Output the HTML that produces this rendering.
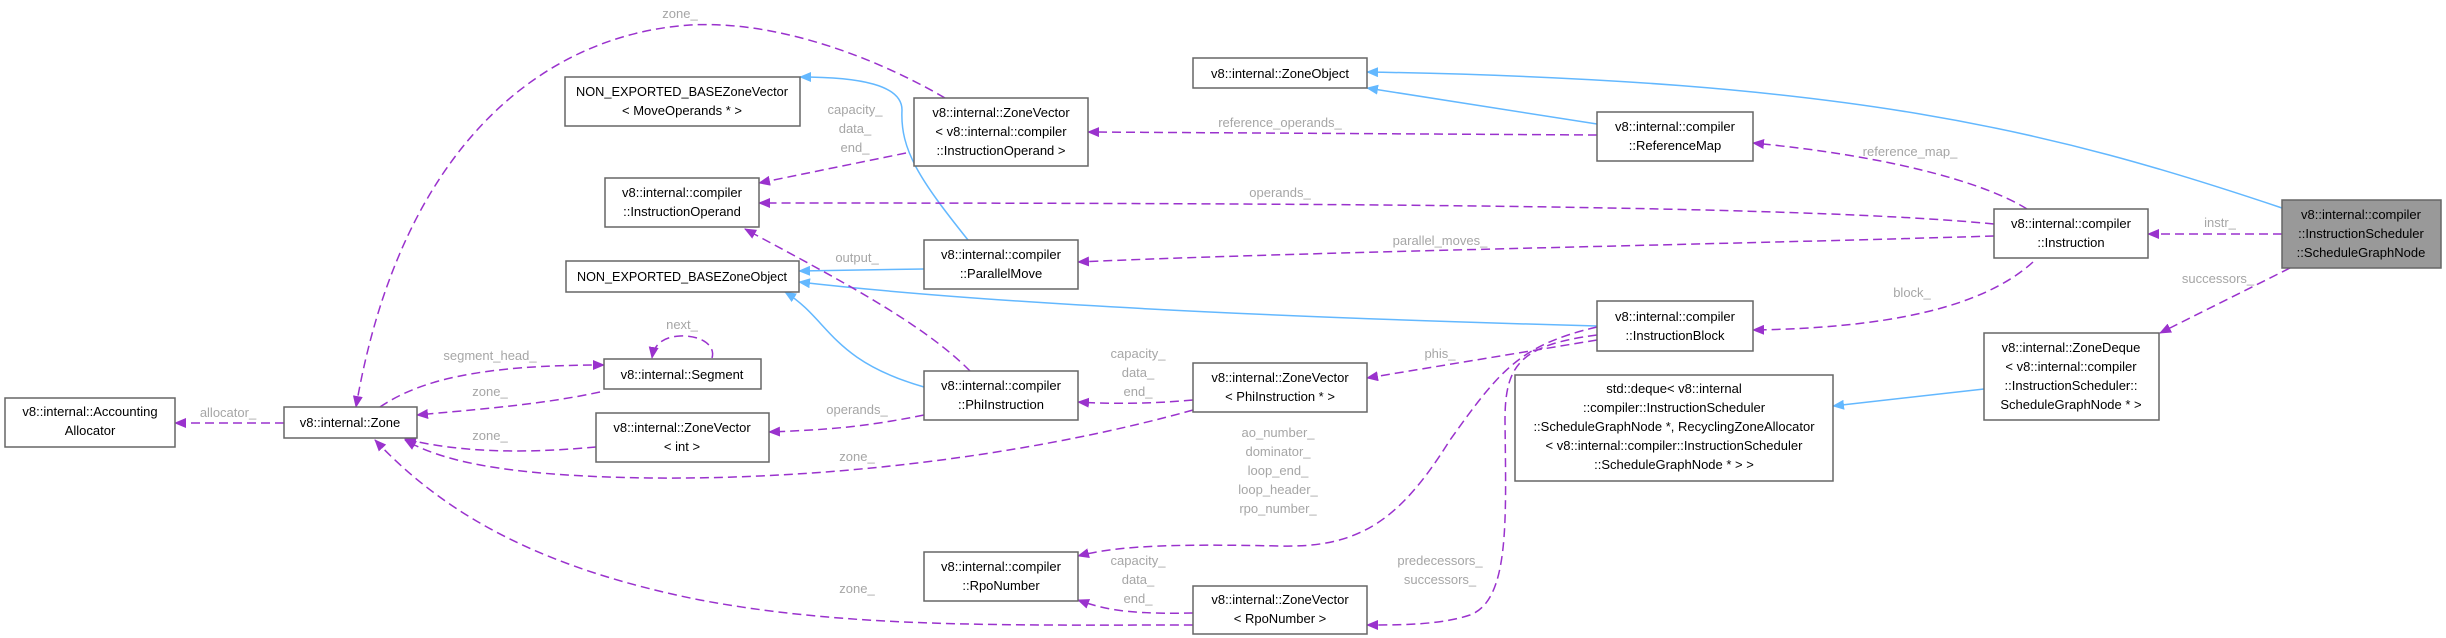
<!DOCTYPE html>
<html><head><meta charset="utf-8"><style>
html,body{margin:0;padding:0;background:#fff;}
svg{display:block;}
text{font-family:"Liberation Sans",sans-serif;}
.n{font-size:13px;fill:#000;text-anchor:middle;}
.l{font-size:13px;fill:#a6a6a6;text-anchor:middle;}
.b{fill:#fff;stroke:#666;stroke-width:1.5;}
.p{fill:none;stroke:#9a32cd;stroke-width:1.5;stroke-dasharray:9,5;}
.i{fill:none;stroke:#63b8ff;stroke-width:1.5;}
</style></head><body>
<svg width="2446" height="638" viewBox="0 0 2446 638" xmlns="http://www.w3.org/2000/svg">
<defs>
<marker id="ap" markerWidth="12" markerHeight="10" refX="11" refY="5" orient="auto" markerUnits="userSpaceOnUse"><path d="M0,0 L12,5 L0,10 z" fill="#9a32cd"/></marker>
<marker id="ab" markerWidth="12" markerHeight="10" refX="11" refY="5" orient="auto" markerUnits="userSpaceOnUse"><path d="M0,0 L12,5 L0,10 z" fill="#63b8ff"/></marker>
</defs>

<path class="i" marker-end="url(#ab)" d="M2282,208 C2050,130 1850,80 1367,72"/>
<path class="i" marker-end="url(#ab)" d="M1597,124 L1367,88"/>
<path class="i" marker-end="url(#ab)" d="M1597,326 C1300,318 1000,305 799,282"/>
<path class="i" marker-end="url(#ab)" d="M924,269 L799,271"/>
<path class="i" marker-end="url(#ab)" d="M924,387 C830,360 830,320 785,292"/>
<path class="i" marker-end="url(#ab)" d="M968,240 C920,180 900,150 902,110 C902,85 860,77 800,77"/>
<path class="i" marker-end="url(#ab)" d="M1984,389 L1833,406"/>

<path class="p" marker-end="url(#ap)" d="M2282,234 L2148,234"/>
<path class="p" marker-end="url(#ap)" d="M2290,268 L2160,333"/>
<path class="p" marker-end="url(#ap)" d="M2027,209 C1980,180 1880,155 1753,143"/>
<path class="p" marker-end="url(#ap)" d="M1597,135 L1088,132"/>
<path class="p" marker-end="url(#ap)" d="M1994,224 C1800,205 1300,203 759,203"/>
<path class="p" marker-end="url(#ap)" d="M1994,236 C1700,245 1300,252 1078,262"/>
<path class="p" marker-end="url(#ap)" d="M2033,262 C1980,310 1880,328 1753,330"/>
<path class="p" marker-end="url(#ap)" d="M945,98 C880,60 780,20 690,25 C540,35 400,150 356,407"/>
<path class="p" marker-end="url(#ap)" d="M906,153 L759,183"/>
<path class="p" marker-end="url(#ap)" d="M970,371 C920,320 820,270 745,229"/>
<path class="p" marker-end="url(#ap)" d="M1597,340 L1367,378"/>
<path class="p" marker-end="url(#ap)" d="M1193,400 C1150,404 1110,404 1078,402"/>
<path class="p" marker-end="url(#ap)" d="M924,415 C860,428 820,430 769,432"/>
<path class="p" marker-end="url(#ap)" d="M1193,410 C1050,450 850,480 650,478 C500,476 440,460 405,440"/>
<path class="p" marker-end="url(#ap)" d="M596,447 C540,452 470,455 405,439"/>
<path class="p" marker-end="url(#ap)" d="M600,392 C540,405 470,410 417,415"/>
<path class="p" marker-end="url(#ap)" d="M380,407 C420,380 480,365 604,365"/>
<path class="p" marker-end="url(#ap)" d="M712,358 C716,345 700,335 680,336 C662,337 654,345 652,358"/>
<path class="p" marker-end="url(#ap)" d="M284,423 L175,423"/>
<path class="p" marker-end="url(#ap)" d="M1193,625 C1000,625 850,628 700,600 C550,570 450,520 375,440"/>
<path class="p" marker-end="url(#ap)" d="M1597,327 C1520,345 1500,370 1450,440 C1400,520 1360,548 1280,546 C1180,544 1120,545 1078,556"/>
<path class="p" marker-end="url(#ap)" d="M1193,613 C1140,614 1110,612 1078,600"/>
<path class="p" marker-end="url(#ap)" d="M1597,335 C1520,345 1505,365 1505,420 C1506,520 1510,600 1470,615 C1440,625 1400,625 1367,625"/>

<text class="l" x="2220" y="227">instr_</text>
<text class="l" x="2218" y="283">successors_</text>
<text class="l" x="1910" y="156">reference_map_</text>
<text class="l" x="1280" y="127">reference_operands_</text>
<text class="l" x="1280" y="197">operands_</text>
<text class="l" x="1440" y="245">parallel_moves_</text>
<text class="l" x="1912" y="297">block_</text>
<text class="l" x="680" y="18">zone_</text>
<text class="l" x="855" y="114">capacity_</text>
<text class="l" x="855" y="133">data_</text>
<text class="l" x="855" y="152">end_</text>
<text class="l" x="857" y="262">output_</text>
<text class="l" x="1440" y="358">phis_</text>
<text class="l" x="1138" y="358">capacity_</text>
<text class="l" x="1138" y="377">data_</text>
<text class="l" x="1138" y="396">end_</text>
<text class="l" x="857" y="414">operands_</text>
<text class="l" x="857" y="461">zone_</text>
<text class="l" x="490" y="440">zone_</text>
<text class="l" x="490" y="396">zone_</text>
<text class="l" x="490" y="360">segment_head_</text>
<text class="l" x="682" y="329">next_</text>
<text class="l" x="228" y="417">allocator_</text>
<text class="l" x="857" y="593">zone_</text>
<text class="l" x="1278" y="437">ao_number_</text>
<text class="l" x="1278" y="456">dominator_</text>
<text class="l" x="1278" y="475">loop_end_</text>
<text class="l" x="1278" y="494">loop_header_</text>
<text class="l" x="1278" y="513">rpo_number_</text>
<text class="l" x="1138" y="565">capacity_</text>
<text class="l" x="1138" y="584">data_</text>
<text class="l" x="1138" y="603">end_</text>
<text class="l" x="1440" y="565">predecessors_</text>
<text class="l" x="1440" y="584">successors_</text>

<rect class="b" x="5" y="398" width="170" height="49"/>
<text class="n" x="90" y="416">v8::internal::Accounting</text>
<text class="n" x="90" y="435">Allocator</text>

<rect class="b" x="284" y="407" width="133" height="31"/>
<text class="n" x="350" y="427">v8::internal::Zone</text>

<rect class="b" x="565" y="77" width="235" height="49"/>
<text class="n" x="682" y="96" textLength="212" lengthAdjust="spacingAndGlyphs">NON_EXPORTED_BASEZoneVector</text>
<text class="n" x="682" y="115">&lt; MoveOperands * &gt;</text>

<rect class="b" x="605" y="178" width="154" height="49"/>
<text class="n" x="682" y="197">v8::internal::compiler</text>
<text class="n" x="682" y="216">::InstructionOperand</text>

<rect class="b" x="566" y="261" width="233" height="31"/>
<text class="n" x="682" y="281" textLength="210" lengthAdjust="spacingAndGlyphs">NON_EXPORTED_BASEZoneObject</text>

<rect class="b" x="604" y="359" width="157" height="30"/>
<text class="n" x="682" y="379">v8::internal::Segment</text>

<rect class="b" x="596" y="413" width="173" height="49"/>
<text class="n" x="682" y="432">v8::internal::ZoneVector</text>
<text class="n" x="682" y="451">&lt; int &gt;</text>

<rect class="b" x="914" y="98" width="174" height="68"/>
<text class="n" x="1001" y="117">v8::internal::ZoneVector</text>
<text class="n" x="1001" y="136">&lt; v8::internal::compiler</text>
<text class="n" x="1001" y="155">::InstructionOperand &gt;</text>

<rect class="b" x="924" y="240" width="154" height="49"/>
<text class="n" x="1001" y="259">v8::internal::compiler</text>
<text class="n" x="1001" y="278">::ParallelMove</text>

<rect class="b" x="924" y="371" width="154" height="49"/>
<text class="n" x="1001" y="390">v8::internal::compiler</text>
<text class="n" x="1001" y="409">::PhiInstruction</text>

<rect class="b" x="924" y="552" width="154" height="49"/>
<text class="n" x="1001" y="571">v8::internal::compiler</text>
<text class="n" x="1001" y="590">::RpoNumber</text>

<rect class="b" x="1193" y="58" width="174" height="30"/>
<text class="n" x="1280" y="78">v8::internal::ZoneObject</text>

<rect class="b" x="1193" y="363" width="174" height="49"/>
<text class="n" x="1280" y="382">v8::internal::ZoneVector</text>
<text class="n" x="1280" y="401">&lt; PhiInstruction * &gt;</text>

<rect class="b" x="1193" y="586" width="174" height="48"/>
<text class="n" x="1280" y="604">v8::internal::ZoneVector</text>
<text class="n" x="1280" y="623">&lt; RpoNumber &gt;</text>

<rect class="b" x="1597" y="112" width="156" height="49"/>
<text class="n" x="1675" y="131">v8::internal::compiler</text>
<text class="n" x="1675" y="150">::ReferenceMap</text>

<rect class="b" x="1597" y="301" width="156" height="50"/>
<text class="n" x="1675" y="321">v8::internal::compiler</text>
<text class="n" x="1675" y="340">::InstructionBlock</text>

<rect class="b" x="1515" y="375" width="318" height="106"/>
<text class="n" x="1674" y="393">std::deque&lt; v8::internal</text>
<text class="n" x="1674" y="412">::compiler::InstructionScheduler</text>
<text class="n" x="1674" y="431">::ScheduleGraphNode *, RecyclingZoneAllocator</text>
<text class="n" x="1674" y="450">&lt; v8::internal::compiler::InstructionScheduler</text>
<text class="n" x="1674" y="469">::ScheduleGraphNode * &gt; &gt;</text>

<rect class="b" x="1994" y="209" width="154" height="49"/>
<text class="n" x="2071" y="228">v8::internal::compiler</text>
<text class="n" x="2071" y="247">::Instruction</text>

<rect class="b" x="1984" y="333" width="175" height="87"/>
<text class="n" x="2071" y="352">v8::internal::ZoneDeque</text>
<text class="n" x="2071" y="371">&lt; v8::internal::compiler</text>
<text class="n" x="2071" y="390">::InstructionScheduler::</text>
<text class="n" x="2071" y="409">ScheduleGraphNode * &gt;</text>

<rect x="2282" y="200" width="159" height="68" fill="#999" stroke="#666" stroke-width="1.5"/>
<text class="n" x="2361" y="219">v8::internal::compiler</text>
<text class="n" x="2361" y="238">::InstructionScheduler</text>
<text class="n" x="2361" y="257">::ScheduleGraphNode</text>
</svg>
</body></html>
